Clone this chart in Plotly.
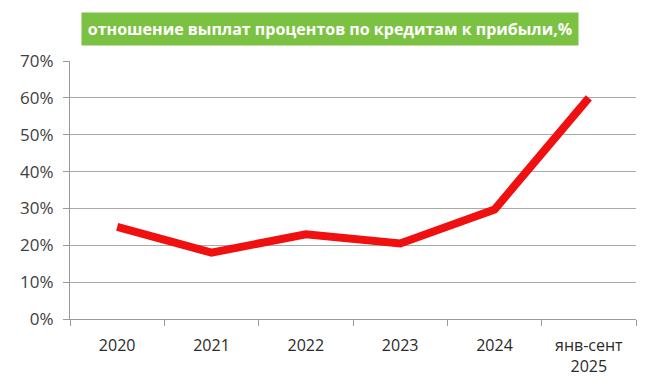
import plotly.graph_objects as go

categories = ["2020", "2021", "2022", "2023", "2024", "янв-сент<br>2025"]
values = [0.25, 0.18, 0.23, 0.205, 0.297, 0.60]
y_ticks = [0, 0.1, 0.2, 0.3, 0.4, 0.5, 0.6, 0.7]
y_labels = ["0%", "10%", "20%", "30%", "40%", "50%", "60%", "70%"]
title_text = "отношение выплат процентов по кредитам к прибыли,%"

fig = go.Figure()
fig.add_trace(go.Scatter(
    x=categories, y=values, mode="lines",
    line=dict(color="#f01010", width=8),
    hoverinfo="skip", showlegend=False,
))

font_family = "Open Sans, Liberation Sans, sans-serif"
fig.update_layout(
    width=645, height=391,
    margin=dict(l=55, r=17, t=53, b=80),
    paper_bgcolor="white", plot_bgcolor="white",
    font=dict(family=font_family, color="#404040", size=16),
    xaxis=dict(
        type="category", range=[-0.5, 5.5],
        tickson="boundaries", ticks="outside", ticklen=6, tickcolor="#9a9a9a",
        showline=True, linecolor="#9a9a9a", linewidth=1,
        showgrid=False, tickfont=dict(size=16, color="#2a2a2a"),
        ticklabelstandoff=12,
        fixedrange=True,
    ),
    yaxis=dict(
        range=[0, 0.7], tickvals=y_ticks, ticktext=y_labels,
        ticks="outside", ticklen=6, tickcolor="#9a9a9a",
        showline=True, linecolor="#9a9a9a", linewidth=1,
        showgrid=True, gridcolor="#aaaaaa", gridwidth=1,
        zeroline=False, tickfont=dict(size=17, color="#404040"),
        ticklabelstandoff=6,
        fixedrange=True,
    ),
    annotations=[dict(
        text="<b>" + title_text + "</b>",
        xref="paper", yref="paper",
        x=(326 - 63) / 573, y=(319 - 29) / 258,
        xanchor="center", yanchor="middle", showarrow=False,
        font=dict(family="Open Sans, sans-serif", size=16, color="white"),
        bgcolor="#7cc242", borderpad=5, width=486,
    )],
)

fig.write_html("out.html")
